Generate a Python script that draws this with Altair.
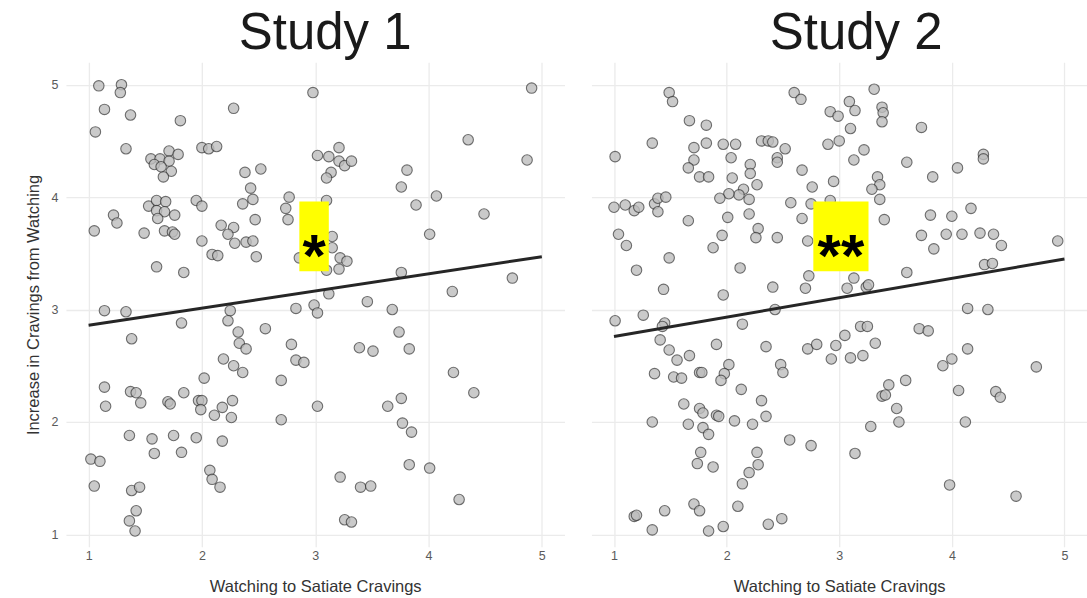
import altair as alt
import pandas as pd

# Study 1: watching-to-satiate score vs. increase in cravings
s1_x = [1.09, 1.29, 1.28, 1.14, 1.37, 1.81, 1.06, 2.28, 2.98, 1.33, 2.0, 2.06, 2.13, 1.55, 1.63, 1.71,
        1.79, 1.58, 1.71, 1.73, 1.66, 1.64, 2.38, 2.52, 3.02, 2.43, 2.45, 2.36, 2.77, 2.74, 2.76, 2.47,
        1.95, 2.0, 1.53, 1.60, 1.68, 1.60, 1.67, 1.76, 1.61, 1.22, 1.25, 1.05, 1.49, 1.67, 1.74, 1.76,
        2.17, 2.28, 2.23, 2.0, 2.29, 2.39, 2.45, 2.48, 2.09, 2.14, 1.60, 1.84, 2.86,
        4.91, 4.35, 4.87, 3.12, 3.21, 3.21, 3.26, 3.32, 3.14, 3.10, 3.81, 3.76, 4.07, 3.89, 4.49, 4.01,
        3.10, 3.15, 3.15, 3.22, 3.28, 3.21, 3.10, 3.76, 4.74, 4.21, 3.12, 3.46, 3.68,
        1.14, 1.33, 1.82, 1.38, 2.25, 2.23, 2.32, 2.33, 2.39, 2.56, 2.83, 2.99, 3.02, 2.79, 2.83, 2.90,
        2.19, 2.28, 2.36, 2.02, 2.70, 3.02, 1.14, 1.15, 1.37, 1.42, 1.46, 1.70, 1.72, 1.84, 1.97, 2.0,
        1.99, 2.11, 2.18, 2.27, 2.26, 2.70, 1.36, 1.56, 1.75, 1.95, 2.18, 1.58, 1.82, 1.02, 1.10, 2.07,
        2.09, 2.16, 1.05, 1.38, 1.45, 1.42, 1.36, 1.41,
        3.74, 3.39, 3.51, 3.83, 4.22, 4.40, 3.76, 3.64, 3.77, 3.85, 3.83, 4.01, 3.22, 3.40, 3.49, 4.27,
        3.26, 3.32]
s1_y = [4.99, 5.0, 4.93, 4.78, 4.73, 4.68, 4.58, 4.79, 4.93, 4.43, 4.44, 4.43, 4.45, 4.34, 4.34, 4.41,
        4.38, 4.29, 4.32, 4.23, 4.18, 4.27, 4.22, 4.25, 4.37, 4.08, 3.98, 3.94, 4.0, 3.90, 3.80, 3.80,
        3.97, 3.92, 3.92, 3.97, 3.96, 3.88, 3.87, 3.84, 3.81, 3.84, 3.77, 3.70, 3.68, 3.70, 3.69, 3.67,
        3.75, 3.73, 3.67, 3.61, 3.59, 3.60, 3.61, 3.47, 3.49, 3.48, 3.38, 3.33, 3.46,
        4.97, 4.51, 4.33, 4.36, 4.44, 4.32, 4.28, 4.32, 4.22, 4.17, 4.24, 4.09, 4.01, 3.93, 3.85, 3.67,
        3.97, 3.65, 3.55, 3.46, 3.43, 3.36, 3.35, 3.33, 3.28, 3.16, 3.14, 3.07, 3.0,
        2.99, 2.98, 2.88, 2.74, 2.99, 2.90, 2.80, 2.70, 2.65, 2.83, 3.01, 3.04, 2.97, 2.69, 2.55, 2.53,
        2.56, 2.50, 2.44, 2.39, 2.37, 2.14, 2.31, 2.14, 2.27, 2.26, 2.17, 2.18, 2.16, 2.26, 2.19, 2.19,
        2.11, 2.06, 2.13, 2.19, 2.04, 2.02, 1.88, 1.85, 1.88, 1.86, 1.83, 1.72, 1.73, 1.67, 1.65, 1.57,
        1.49, 1.42, 1.43, 1.39, 1.42, 1.21, 1.12, 1.03,
        2.80, 2.66, 2.63, 2.65, 2.44, 2.26, 2.21, 2.14, 1.99, 1.91, 1.62, 1.59, 1.51, 1.42, 1.43, 1.31,
        1.13, 1.11]

# Study 2
s2_x = [1.49, 1.52, 1.67, 1.82, 1.34, 1.01, 1.71, 1.71, 1.66, 1.82, 1.97, 2.08, 2.04, 1.76, 1.84, 2.05,
        2.21, 2.21, 2.27, 2.15, 2.11, 2.02, 1.94, 2.20, 2.31, 2.37, 2.41, 2.52, 2.45, 2.45, 2.60, 2.66,
        2.67, 2.76, 2.95, 2.92, 2.99, 2.90, 3.0, 2.57, 2.75, 2.92, 2.67, 2.72, 1.0, 1.10, 1.18, 1.22,
        1.36, 1.39, 1.46, 1.39, 1.66, 2.01, 2.20, 2.28, 2.26, 2.45, 1.96, 1.88, 1.04, 1.11, 1.49, 1.20,
        2.12, 2.73, 2.70, 2.41, 1.44, 1.97,
        3.31, 3.09, 3.14, 3.38, 3.39, 3.38, 3.10, 3.22, 3.13, 3.73, 3.60, 3.83, 4.05, 4.28, 4.28, 3.34,
        3.36, 3.29, 3.36, 3.40, 3.81, 4.0, 4.17, 3.73, 3.95, 4.09, 4.25, 4.37, 4.44, 3.84, 4.94, 4.29,
        4.36, 3.60, 3.13, 3.07, 3.24, 3.26, 4.14, 4.32,
        1.01, 1.26, 1.45, 1.43, 1.41, 1.49, 1.56, 1.67, 1.91, 2.14, 2.43, 2.35, 1.36, 1.53, 1.60, 1.76,
        1.78, 2.02, 1.98, 1.95, 2.13, 2.48, 2.50, 2.72, 2.80, 2.97, 2.93, 2.31, 1.62, 1.76, 1.79,
        1.91, 1.93, 2.07, 2.23, 2.35, 1.34, 1.66, 1.79, 1.84, 2.56, 2.75, 1.77, 1.74, 1.88, 2.27, 2.28,
        2.20, 2.14, 1.71, 1.76, 2.10, 1.45, 1.18, 1.20, 1.34, 1.84, 1.97, 2.37, 2.49,
        3.19, 3.25, 3.05, 3.10, 3.21, 3.32, 3.71, 3.79, 4.14, 4.0, 3.92, 4.75, 3.59, 3.44, 3.38, 3.41,
        3.51, 3.53, 3.28, 4.06, 4.39, 4.43, 4.12, 3.14, 3.98, 4.57]
s2_y = [4.93, 4.85, 4.68, 4.64, 4.48, 4.36, 4.44, 4.33, 4.26, 4.48, 4.47, 4.47, 4.35, 4.18, 4.18, 4.17,
        4.29, 4.21, 4.11, 4.07, 4.02, 4.03, 3.99, 3.98, 4.50, 4.50, 4.49, 4.43, 4.35, 4.31, 4.93, 4.87,
        4.24, 4.09, 4.14, 4.76, 4.72, 4.47, 4.50, 3.95, 3.94, 3.97, 3.81, 3.61, 3.91, 3.93, 3.88, 3.91,
        3.94, 3.99, 4.0, 3.87, 3.79, 3.82, 3.85, 3.72, 3.64, 3.64, 3.66, 3.55, 3.67, 3.57, 3.46, 3.35,
        3.37, 3.30, 3.19, 3.20, 3.18, 3.13,
        4.96, 4.85, 4.77, 4.80, 4.75, 4.67, 4.61, 4.42, 4.33, 4.62, 4.31, 4.18, 4.26, 4.38, 4.34, 4.18,
        4.11, 4.07, 3.98, 3.80, 3.84, 3.83, 3.90, 3.66, 3.67, 3.67, 3.68, 3.67, 3.57, 3.54, 3.61, 3.40,
        3.41, 3.33, 3.28, 3.19, 3.20, 3.22, 3.01, 3.0,
        2.90, 2.95, 2.88, 2.85, 2.73, 2.64, 2.55, 2.59, 2.69, 2.87, 3.0, 2.67, 2.43, 2.40, 2.39, 2.44,
        2.44, 2.51, 2.43, 2.37, 2.29, 2.51, 2.44, 2.65, 2.69, 2.68, 2.56, 2.19, 2.16, 2.12, 2.08,
        2.06, 2.05, 2.01, 1.98, 2.05, 2.0, 1.98, 1.95, 1.89, 1.84, 1.79, 1.73, 1.63, 1.60, 1.73, 1.62,
        1.55, 1.45, 1.27, 1.21, 1.25, 1.21, 1.16, 1.17, 1.04, 1.03, 1.07, 1.09, 1.14,
        2.85, 2.85, 2.77, 2.57, 2.59, 2.70, 2.83, 2.81, 2.65, 2.56, 2.50, 2.49, 2.37, 2.33, 2.23, 2.24,
        2.12, 2.0, 1.96, 2.28, 2.27, 2.22, 2.0, 1.72, 1.44, 1.34]

# Fitted linear trend (endpoints at x = 1 and x = 5)
fit_x = [1, 5]
s1_fit_y = [2.86, 3.47]
s2_fit_y = [2.76, 3.45]

# Significance markers: highlighted box and star label per study
box_x1 = [2.86, 2.77]
box_x2 = [3.12, 3.26]
box_y1 = [3.34, 3.34]
box_y2 = [3.96, 3.96]
stars = ["*", "**"]

titles = ["Study 1", "Study 2"]
title_shift = [10, 17]
ticks = [1, 2, 3, 4, 5]

FONT = "Liberation Sans"
X_DOMAIN = [0.8, 5.2]
Y_DOMAIN = [0.89, 5.2]


def panel(i, xs, ys, fit_y, first):
    pts = pd.DataFrame({"x": xs, "y": ys})
    fit = pd.DataFrame({"x": fit_x, "y": fit_y})
    box = pd.DataFrame({"x": [box_x1[i]], "x2": [box_x2[i]],
                        "y": [box_y1[i]], "y2": [box_y2[i]]})
    lab = pd.DataFrame({"x": [(box_x1[i] + box_x2[i]) / 2],
                        "y": [(box_y1[i] + box_y2[i]) / 2],
                        "label": [stars[i]]})

    x_enc = alt.X("x:Q",
                  scale=alt.Scale(domain=X_DOMAIN, nice=False, zero=False),
                  axis=alt.Axis(values=ticks, title="Watching to Satiate Cravings",
                                labelPadding=3, titlePadding=16))
    if first:
        y_axis = alt.Axis(values=ticks, title="Increase in Cravings from Watching",
                          labelPadding=8, titlePadding=10)
    else:
        y_axis = alt.Axis(values=ticks, title="", labels=False)
    y_enc = alt.Y("y:Q", scale=alt.Scale(domain=Y_DOMAIN, nice=False, zero=False), axis=y_axis)

    points = alt.Chart(pts).mark_circle(
        size=110, color="#bdbdbd", opacity=0.8,
        stroke="#2e2e2e", strokeWidth=1.1, strokeOpacity=0.85
    ).encode(x=x_enc, y=y_enc)

    line = alt.Chart(fit).mark_line(color="#262626", strokeWidth=3).encode(x=x_enc, y=y_enc)

    rect = alt.Chart(box).mark_rect(color="#ffff00").encode(
        x=x_enc, x2=alt.X2("x2"), y=y_enc, y2=alt.Y2("y2"))

    star = alt.Chart(lab).mark_text(
        font=FONT, fontSize=60, fontWeight="bold", color="#000000",
        baseline="middle", align="center", dy=22
    ).encode(x=x_enc, y=y_enc, text="label:N")

    return alt.layer(points, line, rect, star).properties(
        width=499 if first else 496,
        height=485,
        title=alt.TitleParams(text=titles[i], fontSize=51, font=FONT,
                              fontWeight="normal", color="#1a1a1a",
                              anchor="middle", offset=2, dx=title_shift[i]),
    )


p1 = panel(0, s1_x, s1_y, s1_fit_y, True)
p2 = panel(1, s2_x, s2_y, s2_fit_y, False)

chart = alt.hconcat(p1, p2, spacing=27).properties(
    padding={"left": 25, "top": 8, "right": 0, "bottom": 0},
    background="white",
).configure_view(stroke=None).configure_axis(
    grid=True, gridColor="#ebebeb", gridWidth=1.3,
    domain=False, ticks=False,
    labelFont=FONT, labelFontSize=12.5, labelColor="#5a5a5a",
    titleFont=FONT, titleFontSize=16.5, titleFontWeight="normal", titleColor="#333333",
)

chart.save("out.html", embed_options={"renderer": "svg", "actions": False})
